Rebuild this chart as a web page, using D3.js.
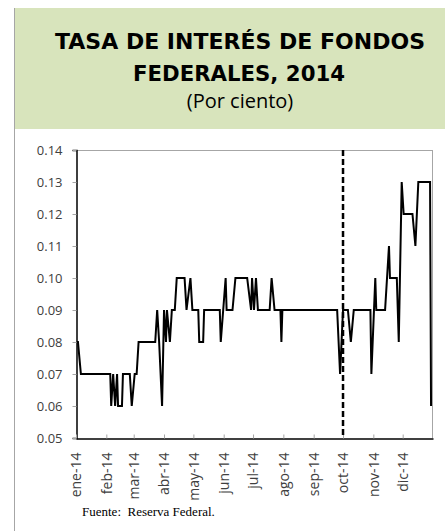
<!DOCTYPE html>
<html>
<head>
<meta charset="utf-8">
<script src="https://cdn.jsdelivr.net/npm/d3@7"></script>
<style>
  body { margin: 0; background: #ffffff; }
</style>
</head>
<body>
<div id="chart-area"></div>
<script>
// Datos: tasa diaria (puntos de cambio)
var fechas = ["2014-01-02","2014-01-03","2014-01-06","2014-02-05","2014-02-06","2014-02-08","2014-02-10","2014-02-12",
  "2014-02-13","2014-02-17","2014-02-18","2014-02-25","2014-02-27","2014-03-02","2014-03-04","2014-03-06",
  "2014-03-23","2014-03-25","2014-03-27","2014-03-30","2014-04-01","2014-04-03","2014-04-04","2014-04-07",
  "2014-04-09","2014-04-12","2014-04-14","2014-04-22","2014-04-24","2014-04-28","2014-04-30","2014-05-06",
  "2014-05-07","2014-05-11","2014-05-12","2014-05-28","2014-05-29","2014-06-03","2014-06-04","2014-06-10",
  "2014-06-13","2014-06-25","2014-06-29","2014-06-30","2014-07-02","2014-07-04","2014-07-06","2014-07-18",
  "2014-07-20","2014-07-23","2014-07-29","2014-07-30","2014-07-31","2014-09-25","2014-09-28","2014-10-01",
  "2014-10-06","2014-10-09","2014-10-12","2014-10-29","2014-10-30","2014-11-03","2014-11-04","2014-11-13",
  "2014-11-17","2014-11-18","2014-11-25","2014-11-27","2014-11-30","2014-12-02","2014-12-11","2014-12-14",
  "2014-12-17","2014-12-29","2014-12-30"];
var tasa = [0.08,0.08,0.07,0.07,0.06,0.07,0.06,0.07,
  0.06,0.06,0.07,0.07,0.06,0.07,0.07,0.08,
  0.08,0.09,0.08,0.06,0.09,0.08,0.09,0.08,
  0.09,0.09,0.10,0.10,0.09,0.10,0.09,0.09,
  0.08,0.08,0.09,0.09,0.08,0.10,0.09,0.09,
  0.10,0.10,0.09,0.10,0.09,0.10,0.09,0.09,
  0.10,0.09,0.09,0.08,0.09,0.09,0.07,0.09,
  0.09,0.08,0.09,0.09,0.07,0.10,0.09,0.09,
  0.11,0.10,0.10,0.08,0.13,0.12,0.12,0.11,
  0.13,0.13,0.06];
var meses = ["ene-14","feb-14","mar-14","abr-14","may-14","jun-14","jul-14","ago-14","sep-14","oct-14","nov-14","dic-14"];
var yTicks = [0.05,0.06,0.07,0.08,0.09,0.10,0.11,0.12,0.13,0.14];
var fechaCorte = "2014-10-01";  // línea vertical punteada

var parse = d3.timeParse("%Y-%m-%d");
var datos = fechas.map(function(f, i) { return { fecha: parse(f), valor: tasa[i] }; });

var svg = d3.select("#chart-area").append("svg")
    .attr("width", 445)
    .attr("height", 531);

// Encabezado verde
svg.append("rect")
    .attr("x", 14)
    .attr("y", 8)
    .attr("width", 431)
    .attr("height", 121)
    .attr("fill", "#d8e4bc");

// Borde izquierdo del panel
svg.append("line")
    .attr("x1", 14.5).attr("y1", 8)
    .attr("x2", 14.5).attr("y2", 531)
    .attr("stroke", "#a6a6a6")
    .attr("stroke-width", 1);

svg.append("text")
    .attr("x", 240).attr("y", 49)
    .attr("text-anchor", "middle")
    .attr("textLength", 370)
    .attr("lengthAdjust", "spacingAndGlyphs")
    .style("font-family", "'DejaVu Sans', sans-serif")
    .style("font-weight", "bold")
    .style("font-size", "21px")
    .attr("fill", "#000")
    .text("TASA DE INTERÉS DE FONDOS");

svg.append("text")
    .attr("x", 239).attr("y", 81)
    .attr("text-anchor", "middle")
    .attr("textLength", 212)
    .attr("lengthAdjust", "spacingAndGlyphs")
    .style("font-family", "'DejaVu Sans', sans-serif")
    .style("font-weight", "bold")
    .style("font-size", "21px")
    .attr("fill", "#000")
    .text("FEDERALES, 2014");

svg.append("text")
    .attr("x", 240).attr("y", 108)
    .attr("text-anchor", "middle")
    .style("font-family", "'Open Sans', sans-serif")
    .style("font-size", "20px")
    .attr("fill", "#000")
    .text("(Por ciento)");

// Escalas
var x = d3.scaleTime()
    .domain([new Date(2014, 0, 1), new Date(2015, 0, 1)])
    .range([76, 433]);
var y = d3.scaleLinear()
    .domain([0.05, 0.14])
    .range([438, 150]);

// Marco gris del área de gráfico
svg.append("line")
    .attr("x1", 72).attr("y1", 150.5).attr("x2", 432).attr("y2", 150.5)
    .attr("stroke", "#a6a6a6");
svg.append("line")
    .attr("x1", 432.5).attr("y1", 150).attr("x2", 432.5).attr("y2", 438)
    .attr("stroke", "#a6a6a6");

// Eje Y
var yAxis = d3.axisLeft(y)
    .tickValues(yTicks)
    .tickFormat(d3.format(".2f"))
    .tickSize(4)
    .tickPadding(10);
var gy = svg.append("g")
    .attr("transform", "translate(76.5,0)")
    .call(yAxis);
gy.select(".domain").attr("stroke", "#000").attr("stroke-width", 1.5);
gy.selectAll(".tick line").attr("stroke", "#a6a6a6");
gy.selectAll(".tick text")
    .attr("fill", "#404040")
    .style("font-family", "'Open Sans', sans-serif")
    .style("font-size", "13px");

// Eje X
var ticksX = meses.map(function(m, i) { return new Date(2014, i, 1); });
var xAxis = d3.axisBottom(x)
    .tickValues(ticksX)
    .tickFormat(function(d, i) { return meses[i]; })
    .tickSize(-4)
    .tickSizeOuter(0);
var gx = svg.append("g")
    .attr("transform", "translate(0,438.5)")
    .call(xAxis);
gx.select(".domain").attr("stroke", "#000").attr("stroke-width", 1.5);
gx.selectAll(".tick line").attr("stroke", "#a6a6a6");
gx.selectAll(".tick text")
    .attr("fill", "#404040")
    .style("font-family", "'Open Sans', sans-serif")
    .style("font-size", "14px")
    .attr("transform", "rotate(-90)")
    .attr("text-anchor", "end")
    .attr("x", -14)
    .attr("y", 0)
    .attr("dy", "0.35em");

// Línea de la tasa
var linea = d3.line()
    .x(function(d) { return x(d.fecha); })
    .y(function(d) { return y(d.valor); });

svg.append("path")
    .datum(datos)
    .attr("d", linea)
    .attr("fill", "none")
    .attr("stroke", "#000")
    .attr("stroke-width", 2)
    .attr("stroke-linejoin", "miter");

// Línea vertical punteada
svg.append("line")
    .attr("x1", x(parse(fechaCorte))).attr("y1", 150)
    .attr("x2", x(parse(fechaCorte))).attr("y2", 438)
    .attr("stroke", "#000")
    .attr("stroke-width", 2.5)
    .attr("stroke-dasharray", "6,3");

// Fuente
svg.append("text")
    .attr("x", 82).attr("y", 516)
    .style("font-family", "'Liberation Serif', serif")
    .style("font-size", "13px")
    .attr("fill", "#000")
    .attr("xml:space", "preserve")
    .text("Fuente:  Reserva Federal.");
</script>
</body>
</html>
